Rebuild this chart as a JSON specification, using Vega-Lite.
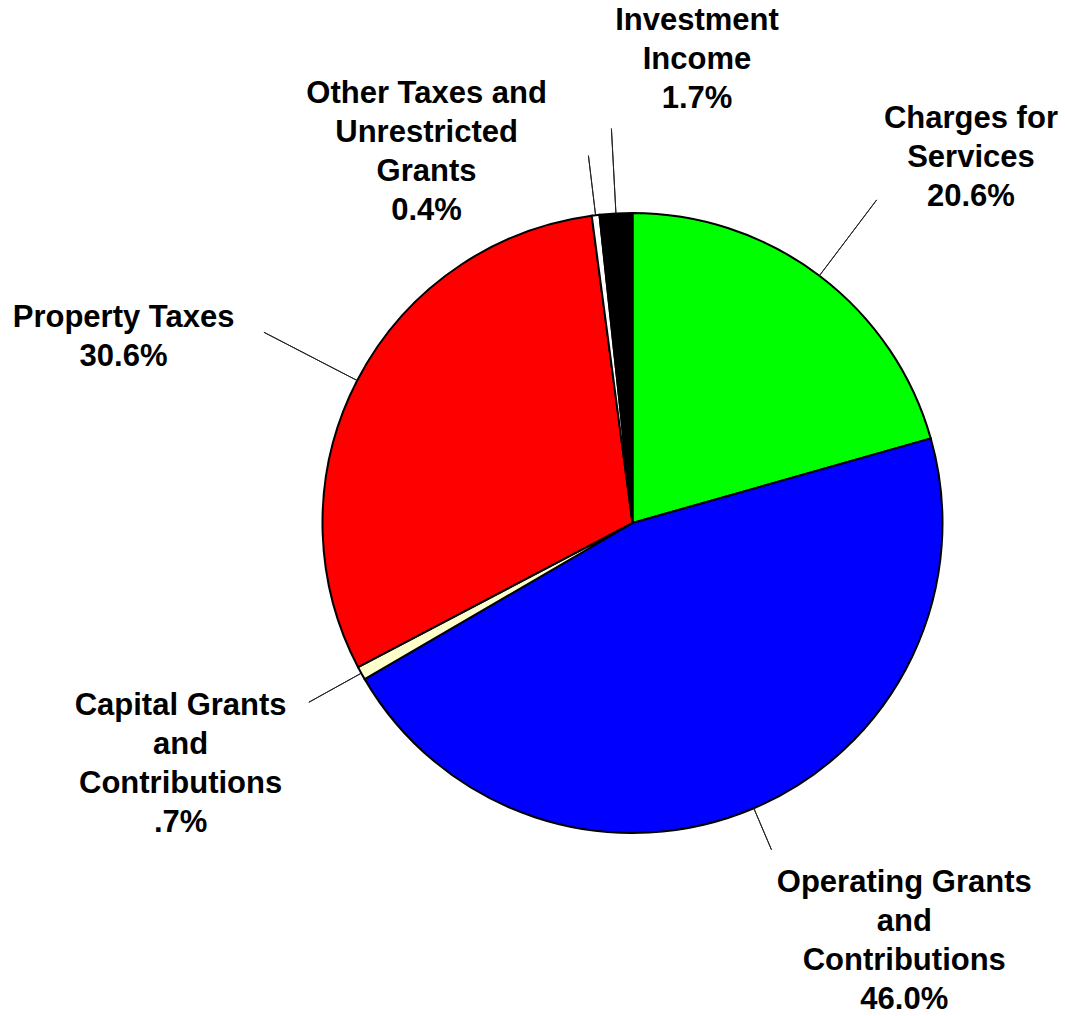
{
  "$schema": "https://vega.github.io/schema/vega-lite/v6.json",
  "width": 865,
  "height": 986,
  "autosize": "none",
  "padding": {"left": 200, "top": 30, "right": 0, "bottom": 0},
  "background": "white",
  "config": {"view": {"stroke": null}},
  "data": {
    "values": [
      {"category": "Charges for Services", "value": 20.6, "order": 1, "label": "Charges for\nServices\n20.6%"},
      {"category": "Operating Grants and Contributions", "value": 46.0, "order": 2, "label": "Operating Grants\nand\nContributions\n46.0%"},
      {"category": "Capital Grants and Contributions", "value": 0.7, "order": 3, "label": "Capital Grants\nand\nContributions\n.7%"},
      {"category": "Property Taxes", "value": 30.6, "order": 4, "label": "Property Taxes\n30.6%"},
      {"category": "Other Taxes and Unrestricted Grants", "value": 0.4, "order": 5, "label": "Other Taxes and\nUnrestricted\nGrants\n0.4%"},
      {"category": "Investment Income", "value": 1.7, "order": 6, "label": "Investment\nIncome\n1.7%"}
    ]
  },
  "transform": [
    {"stack": "value", "groupby": [], "sort": [{"field": "order", "order": "ascending"}], "as": ["start", "end"]}
  ],
  "layer": [
    {
      "mark": {"type": "arc", "radius": 310, "stroke": "black", "strokeWidth": 2},
      "encoding": {
        "theta": {"field": "start", "type": "quantitative", "stack": null, "scale": {"domain": [0, 100]}},
        "theta2": {"field": "end"},
        "color": {
          "field": "category",
          "type": "nominal",
          "legend": null,
          "scale": {
            "domain": ["Charges for Services", "Operating Grants and Contributions", "Capital Grants and Contributions", "Property Taxes", "Other Taxes and Unrestricted Grants", "Investment Income"],
            "range": ["#00FF00", "#0000FF", "#FFFFCC", "#FF0000", "#FFFFFF", "#000000"]
          }
        }
      }
    },
    {
      "transform": [
        {"fold": ["start", "end"], "as": ["edge", "pos"]},
        {"aggregate": [{"op": "mean", "field": "pos", "as": "mid"}], "groupby": ["category", "label"]}
      ],
      "encoding": {
        "theta": {"field": "mid", "type": "quantitative", "stack": null, "scale": {"domain": [0, 100]}}
      },
      "layer": [
        {
          "transform": [{"filter": "datum.category === 'Charges for Services'"}],
          "layer": [
            {"mark": {"type": "arc", "radius": 405, "radius2": 310, "fill": null, "stroke": "#222222", "strokeWidth": 1}, "encoding": {"theta2": {"field": "mid"}}},
            {"mark": {"type": "text", "radius": 495, "dx": 40, "dy": -9, "align": "center", "baseline": "middle", "lineBreak": "\n", "lineHeight": 39, "font": "Liberation Sans", "fontWeight": "bold", "fontSize": 31, "color": "black"}, "encoding": {"text": {"field": "label"}}}
          ]
        },
        {
          "transform": [{"filter": "datum.category === 'Operating Grants and Contributions'"}],
          "layer": [
            {"mark": {"type": "arc", "radius": 355, "radius2": 310, "fill": null, "stroke": "#222222", "strokeWidth": 1}, "encoding": {"theta2": {"field": "mid"}}},
            {"mark": {"type": "text", "radius": 490, "dx": 80, "dy": -91, "align": "center", "baseline": "middle", "lineBreak": "\n", "lineHeight": 39, "font": "Liberation Sans", "fontWeight": "bold", "fontSize": 31, "color": "black"}, "encoding": {"text": {"field": "label"}}}
          ]
        },
        {
          "transform": [{"filter": "datum.category === 'Capital Grants and Contributions'"}],
          "layer": [
            {"mark": {"type": "arc", "radius": 370, "radius2": 310, "fill": null, "stroke": "#222222", "strokeWidth": 1}, "encoding": {"theta2": {"field": "mid"}}},
            {"mark": {"type": "text", "radius": 512, "dx": -4, "dy": -65, "align": "center", "baseline": "middle", "lineBreak": "\n", "lineHeight": 39, "font": "Liberation Sans", "fontWeight": "bold", "fontSize": 31, "color": "black"}, "encoding": {"text": {"field": "label"}}}
          ]
        },
        {
          "transform": [{"filter": "datum.category === 'Property Taxes'"}],
          "layer": [
            {"mark": {"type": "arc", "radius": 415, "radius2": 310, "fill": null, "stroke": "#222222", "strokeWidth": 1}, "encoding": {"theta2": {"field": "mid"}}},
            {"mark": {"type": "text", "radius": 537, "dx": -32, "dy": 42, "align": "center", "baseline": "middle", "lineBreak": "\n", "lineHeight": 39, "font": "Liberation Sans", "fontWeight": "bold", "fontSize": 31, "color": "black"}, "encoding": {"text": {"field": "label"}}}
          ]
        },
        {
          "transform": [{"filter": "datum.category === 'Other Taxes and Unrestricted Grants'"}],
          "layer": [
            {"mark": {"type": "arc", "radius": 370, "radius2": 310, "fill": null, "stroke": "#222222", "strokeWidth": 1}, "encoding": {"theta2": {"field": "mid"}}},
            {"mark": {"type": "text", "radius": 394, "dx": -159, "dy": -38, "align": "center", "baseline": "middle", "lineBreak": "\n", "lineHeight": 39, "font": "Liberation Sans", "fontWeight": "bold", "fontSize": 31, "color": "black"}, "encoding": {"text": {"field": "label"}}}
          ]
        },
        {
          "transform": [{"filter": "datum.category === 'Investment Income'"}],
          "layer": [
            {"mark": {"type": "arc", "radius": 395, "radius2": 310, "fill": null, "stroke": "#222222", "strokeWidth": 1}, "encoding": {"theta2": {"field": "mid"}}},
            {"mark": {"type": "text", "radius": 459, "dx": 89, "dy": -44, "align": "center", "baseline": "middle", "lineBreak": "\n", "lineHeight": 39, "font": "Liberation Sans", "fontWeight": "bold", "fontSize": 31, "color": "black"}, "encoding": {"text": {"field": "label"}}}
          ]
        }
      ]
    }
  ]
}
